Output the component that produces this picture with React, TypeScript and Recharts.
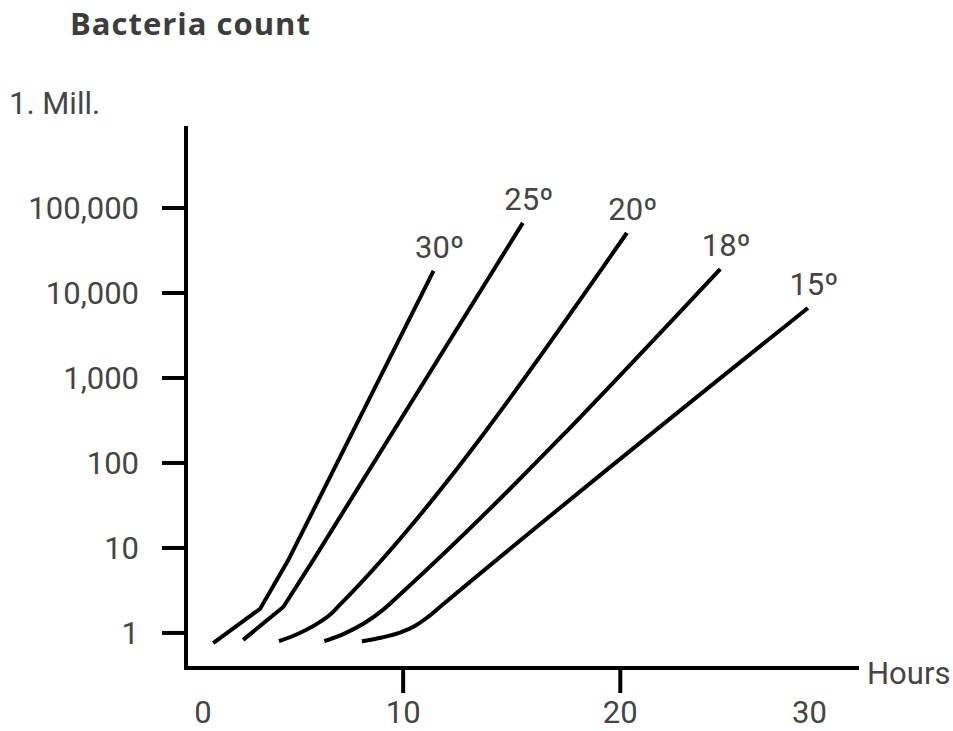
import React from "react"
import { LineChart, Line, XAxis, YAxis } from "recharts"

// hours since start, bacteria count (log scale), one pair per temperature
const hours30 = [1.25, 3.41, 4.71, 11.4]
const count30 = [0.76, 1.92, 7.2, 18150]

const hours25 = [2.63, 4.48, 5.86, 15.51]
const count25 = [0.83, 2.02, 7.2, 66700]

const hours20 = [4.28, 5.24, 6.03, 6.64, 7.09, 20.3]
const count20 = [0.8, 1.0, 1.28, 1.65, 2.15, 50800]

const hours18 = [6.37, 7.32, 8.22, 9.07, 9.88, 24.6]
const count18 = [0.8, 0.99, 1.31, 1.87, 2.88, 19150]

const hours15 = [8.1, 9.02, 9.85, 10.54, 11.14, 11.69, 28.64]
const count15 = [0.8, 0.885, 1.01, 1.21, 1.54, 2.02, 6660]

const yTicks = [1, 10, 100, 1000, 10000, 100000]
const xTicks = [0, 10, 20, 30]

const series = [
  { name: "30º", hours: hours30, counts: count30, type: "linear" },
  { name: "25º", hours: hours25, counts: count25, type: "linear" },
  { name: "20º", hours: hours20, counts: count20, type: "monotone" },
  { name: "18º", hours: hours18, counts: count18, type: "monotone" },
  { name: "15º", hours: hours15, counts: count15, type: "monotone" },
]

const textColor = "#454545"
const font = "Roboto, sans-serif"
const fontSize = 31

const XTick = ({ x, y, payload }: any) => {
  const v = payload.value
  const dx = v === 0 ? 17 : v === 30 ? -28 : 0
  return (
    <g>
      {(v === 10 || v === 20) && <line x1={x} x2={x} y1={y} y2={y + 25} stroke="#000" strokeWidth={4} />}
      <text x={x + dx} y={y + 55} textAnchor="middle" fill={textColor} fontSize={fontSize} fontFamily={font}>
        {v}
      </text>
    </g>
  )
}

const YTick = ({ x, y, payload }: any) => (
  <g>
    <line x1={x - 24} x2={x} y1={y} y2={y} stroke="#000" strokeWidth={4} />
    <text x={x - 47} y={y + 11} textAnchor="end" fill={textColor} fontSize={fontSize} fontFamily={font}>
      {payload.value.toLocaleString("en-US")}
    </text>
  </g>
)

export default function App() {
  return (
    <div style={{ position: "absolute", left: 0, top: 0, width: 953, height: 731, background: "#fff" }}>
      <LineChart width={953} height={731} margin={{ top: 128, right: 96, bottom: 0, left: 0 }}>
        <XAxis
          dataKey="x"
          type="number"
          domain={[0, 30.9]}
          ticks={xTicks}
          allowDataOverflow
          height={63}
          tickSize={0}
          tickMargin={0}
          tickLine={false}
          axisLine={{ stroke: "#000", strokeWidth: 4, strokeLinecap: "square" }}
          tick={<XTick />}
          interval={0}
        />
        <YAxis
          dataKey="y"
          type="number"
          scale="log"
          domain={[0.387, 873000]}
          ticks={yTicks}
          allowDataOverflow
          width={186}
          tickSize={0}
          tickMargin={0}
          tickLine={false}
          axisLine={{ stroke: "#000", strokeWidth: 4, strokeLinecap: "square" }}
          tick={<YTick />}
          interval={0}
        />
        {series.map((s) => {
          const data = s.hours.map((h, i) => ({ x: h, y: s.counts[i] }))
          const last = data.length - 1
          return (
            <Line
              key={s.name}
              data={data}
              dataKey="y"
              type={s.type as any}
              stroke="#000"
              strokeWidth={4}
              dot={false}
              isAnimationActive={false}
              label={(p: any) =>
                p.index === last ? (
                  <text
                    key={s.name}
                    x={p.x + 6}
                    y={p.y - 13}
                    textAnchor="middle"
                    fill={textColor}
                    fontSize={fontSize}
                    fontFamily={font}
                  >
                    {s.name}
                  </text>
                ) : (
                  <g key={`${s.name}-${p.index}`} />
                )
              }
            />
          )
        })}
      </LineChart>
      <svg width={953} height={731} style={{ position: "absolute", left: 0, top: 0, pointerEvents: "none" }}>
        <text x={70} y={35} fill="#3d3d3d" fontSize={31} fontWeight={700} fontFamily="'Open Sans', sans-serif" letterSpacing={1}>
          Bacteria count
        </text>
        <text x={9} y={114} fill={textColor} fontSize={fontSize} fontFamily={font}>
          1. Mill.
        </text>
        <text x={867} y={684} fill={textColor} fontSize={fontSize} fontFamily={font}>
          Hours
        </text>
      </svg>
    </div>
  )
}
